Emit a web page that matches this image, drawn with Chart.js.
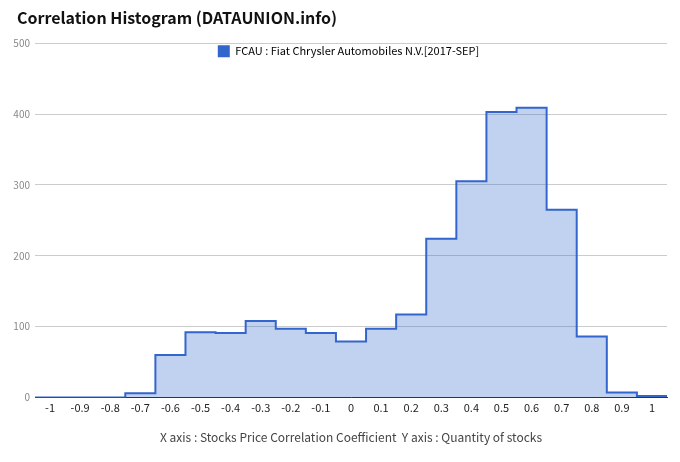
<!DOCTYPE html>
<html>
<head>
<meta charset="utf-8">
<script src="https://cdn.jsdelivr.net/npm/chart.js@4"></script>
<style>
  html, body { margin: 0; padding: 0; background: #fff; }
  #wrap { position: relative; width: 680px; height: 462px; }
</style>
</head>
<body>
<div id="wrap"><canvas id="histChart" width="680" height="462"></canvas></div>
<script>
// 상관계수 구간 (x축 라벨)
const corrBins = [-1, -0.9, -0.8, -0.7, -0.6, -0.5, -0.4, -0.3, -0.2, -0.1, 0, 0.1, 0.2, 0.3, 0.4, 0.5, 0.6, 0.7, 0.8, 0.9, 1];
// 구간별 종목 수
const stockCounts = [0, 0, 0, 6, 60, 92, 91, 108, 97, 91, 79, 97, 117, 224, 305, 403, 409, 265, 86, 7, 2];
const yTicks = [0, 100, 200, 300, 400, 500];
const seriesName = 'FCAU : Fiat Chrysler Automobiles N.V.[2017-SEP]';
const binWidth = 0.1;

const FONT = '"Noto Sans CJK KR", "Noto Sans", sans-serif';
const lineColor = '#3366CC';

// 계단형 선: 각 구간 왼쪽 끝에서 시작
const stepPoints = corrBins.map((c, i) => ({ x: c - binWidth / 2, y: stockCounts[i] }));
stepPoints.push({ x: corrBins[corrBins.length - 1] + binWidth / 2, y: stockCounts[stockCounts.length - 1] });

// 범례를 차트 영역 안쪽에 겹치게, 제목은 왼쪽 여백 17px
const overlayPlugin = {
  id: 'overlay',
  afterInit(chart) {
    const legend = chart.legend;
    const origFit = legend.fit;
    legend.fit = function () {
      origFit.call(this);
      this._realHeight = this.height;
      this.height = 0;
    };
  },
  afterLayout(chart) {
    chart.titleBlock.left = 17;
    const legend = chart.legend;
    legend.height = legend._realHeight;
    legend.bottom = legend.top + legend._realHeight;
    legend.left += 15;
    legend.right += 15;
  }
};

new Chart(document.getElementById('histChart').getContext('2d'), {
  type: 'line',
  data: {
    datasets: [{
      label: seriesName,
      data: stepPoints,
      stepped: 'before',
      borderColor: lineColor,
      backgroundColor: 'rgba(51,102,204,0.3)',
      borderWidth: 2,
      fill: 'origin',
      pointRadius: 0,
      tension: 0
    }]
  },
  plugins: [overlayPlugin],
  options: {
    responsive: false,
    animation: false,
    layout: { padding: { left: 0, right: 13, top: 0, bottom: 17 } },
    plugins: {
      title: {
        display: true,
        text: 'Correlation Histogram (DATAUNION.info)',
        align: 'start',
        color: '#111',
        font: { family: FONT, size: 16, weight: 'bold' },
        padding: { top: 8, bottom: 16 }
      },
      legend: {
        position: 'top',
        align: 'center',
        labels: {
          boxWidth: 12,
          boxHeight: 12,
          padding: 2,
          color: '#333',
          font: { family: FONT, size: 11 },
          generateLabels: () => [{ text: seriesName, fillStyle: lineColor, strokeStyle: lineColor, lineWidth: 0, datasetIndex: 0 }]
        }
      },
      tooltip: { enabled: false }
    },
    scales: {
      x: {
        type: 'linear',
        min: corrBins[0] - binWidth / 2,
        max: corrBins[corrBins.length - 1] + binWidth / 2,
        afterBuildTicks: axis => { axis.ticks = corrBins.map(v => ({ value: v })); },
        grid: { display: false, drawTicks: false },
        border: { display: true, color: '#333', width: 1 },
        ticks: {
          padding: 4,
          autoSkip: false,
          maxRotation: 0,
          color: '#222',
          font: { family: FONT, size: 11 },
          callback: v => String(v)
        },
        title: {
          display: true,
          text: 'X axis : Stocks Price Correlation Coefficient  Y axis : Quantity of stocks',
          color: '#444',
          font: { family: FONT, size: 12 },
          padding: { top: 12, bottom: 0 }
        }
      },
      y: {
        min: 0,
        max: 500,
        afterBuildTicks: axis => { axis.ticks = yTicks.map(v => ({ value: v })); },
        afterFit: s => { s.width = 35; },
        grid: { color: '#cccccc', drawTicks: false },
        border: { display: false },
        ticks: {
          padding: 5,
          color: '#888',
          font: { family: FONT, size: 10 }
        }
      }
    }
  }
});
</script>
</body>
</html>
